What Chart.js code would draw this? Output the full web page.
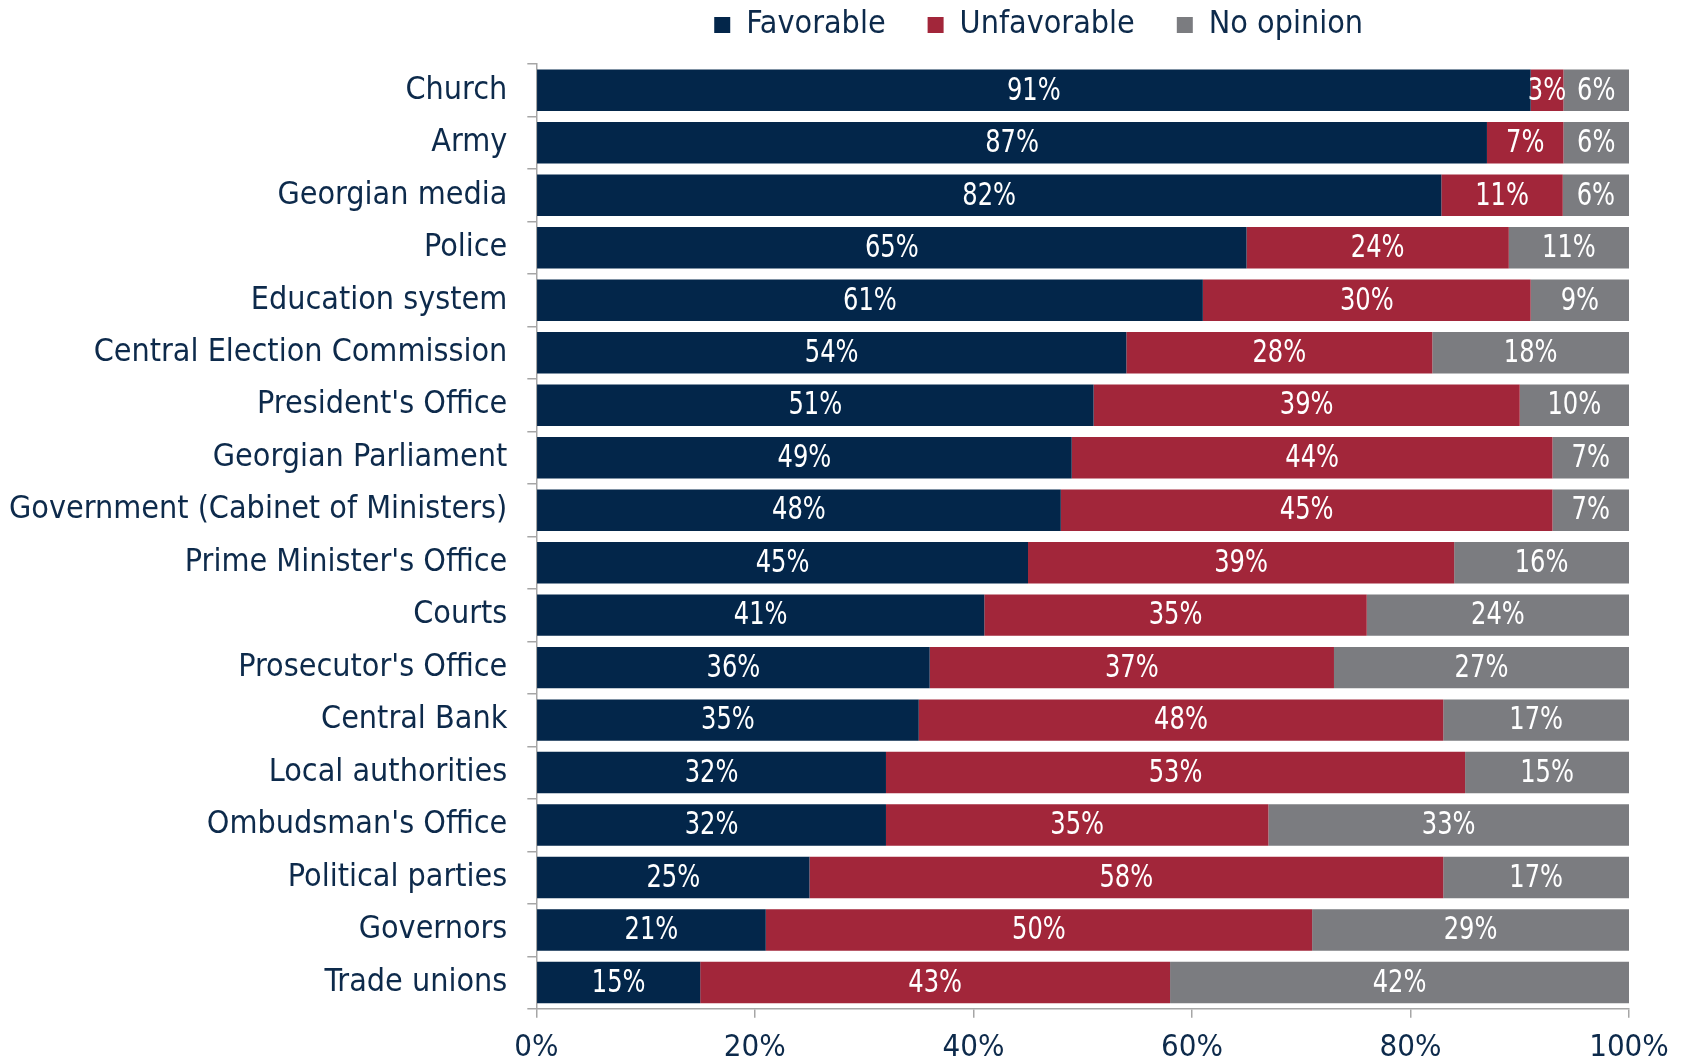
<!DOCTYPE html>
<html>
<head>
<meta charset="utf-8">
<script src="https://cdn.jsdelivr.net/npm/chart.js@4.4.0/dist/chart.umd.min.js"></script>
<style>
  html, body { margin: 0; padding: 0; background: #fff; }
</style>
</head>
<body>
<canvas id="myChart" width="1681" height="1059"></canvas>
<script>
var categories = ["Church", "Army", "Georgian media", "Police", "Education system",
    "Central Election Commission", "President's Office", "Georgian Parliament",
    "Government (Cabinet of Ministers)", "Prime Minister's Office", "Courts",
    "Prosecutor's Office", "Central Bank", "Local authorities", "Ombudsman's Office",
    "Political parties", "Governors", "Trade unions"];
var favorable   = [91, 87, 82, 65, 61, 54, 51, 49, 48, 45, 41, 36, 35, 32, 32, 25, 21, 15];
var unfavorable = [ 3,  7, 11, 24, 30, 28, 39, 44, 45, 39, 35, 37, 48, 53, 35, 58, 50, 43];
var noOpinion   = [ 6,  6,  6, 11,  9, 18, 10,  7,  7, 16, 24, 27, 17, 15, 33, 17, 29, 42];
var xTicks = [0, 20, 40, 60, 80, 100];

var navy = '#03264a';
var textColor = '#0d2a4b';
var fontFamily = '"DejaVu Sans Condensed", "DejaVu Sans", sans-serif';

// bars are a 100% stack, labels keep the survey numbers
function share(arr) {
    return arr.map(function(v, i){
        var total = favorable[i] + unfavorable[i] + noOpinion[i];
        return v / total * 100;
    });
}

var valueLabels = {
    id: 'valueLabels',
    afterDatasetsDraw: function(chart) {
        var ctx = chart.ctx;
        chart.data.datasets.forEach(function(ds, di){
            var meta = chart.getDatasetMeta(di);
            meta.data.forEach(function(bar, i){
                var cx = (bar.x + bar.base) / 2;
                ctx.save();
                ctx.translate(cx, bar.y + 1);
                ctx.scale(0.84, 1);   // original uses a narrow face
                ctx.font = '32px ' + fontFamily;
                ctx.fillStyle = '#ffffff';
                ctx.textAlign = 'center';
                ctx.textBaseline = 'middle';
                ctx.fillText(ds.raw[i] + '%', 0, 0);
                ctx.restore();
            });
        });
    }
};

// nudge the legend so it sits where the original has it
var legendShift = {
    id: 'legendShift',
    afterLayout: function(chart) {
        var lg = chart.legend;
        lg.left -= 44;
        lg.right -= 44;
        lg.top -= 13;
        lg.bottom -= 13;
    }
};

var ctx = document.getElementById("myChart");
var chart = new Chart(ctx, {
    type: 'bar',
    data: {
        labels: categories,
        datasets: [{
            label: "Favorable",
            raw: favorable,
            data: share(favorable),
            backgroundColor: navy
        }, {
            label: "Unfavorable",
            raw: unfavorable,
            data: share(unfavorable),
            backgroundColor: '#a2263a'
        }, {
            label: "No opinion",
            raw: noOpinion,
            data: share(noOpinion),
            backgroundColor: '#7b7c80'
        }]
    },
    options: {
        indexAxis: 'y',
        responsive: false,
        animation: false,
        barPercentage: 0.79,
        categoryPercentage: 1,
        layout: { padding: { left: -11, right: 52, top: -20, bottom: -20 } },
        plugins: {
            tooltip: { enabled: false },
            legend: {
                position: 'top',
                fullSize: false,
                labels: {
                    boxWidth: 16,
                    boxHeight: 16,
                    padding: 42,
                    color: textColor,
                    font: { family: fontFamily, size: 32 }
                }
            }
        },
        scales: {
            x: {
                stacked: true,
                min: 0,
                max: 100,
                afterBuildTicks: function(axis) {
                    axis.ticks = xTicks.map(function(v){ return { value: v }; });
                },
                border: { color: '#a6a6a6', width: 1.5 },
                grid: { drawOnChartArea: false, color: '#a6a6a6', tickLength: 9, lineWidth: 1.5 },
                ticks: {
                    color: textColor,
                    padding: 12,
                    maxRotation: 0,
                    font: { family: fontFamily, size: 31 },
                    callback: function(v){ return v + '%'; }
                }
            },
            y: {
                stacked: true,
                border: { color: '#a6a6a6', width: 1.5 },
                grid: { drawOnChartArea: false, offset: true, color: '#a6a6a6', tickLength: 9, lineWidth: 1.5 },
                ticks: {
                    color: textColor,
                    padding: 20,
                    autoSkip: false,
                    font: { family: fontFamily, size: 32 }
                }
            }
        }
    },
    plugins: [valueLabels, legendShift]
});
</script>
</body>
</html>
